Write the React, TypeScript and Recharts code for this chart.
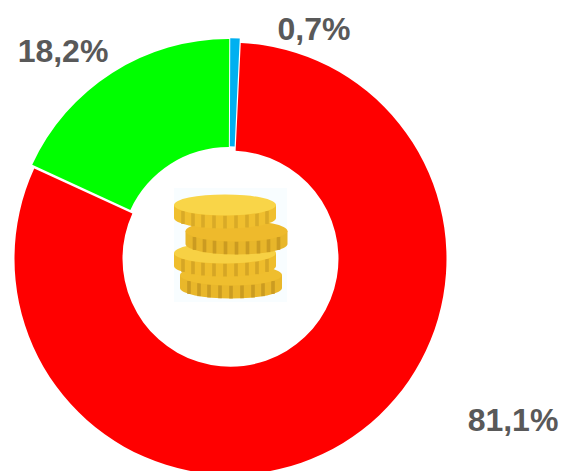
import React from "react";
import { PieChart, Pie, Cell, Sector } from "recharts";

const names = ["Azul", "Rojo", "Verde"];
const values = [0.7, 81.1, 18.2];
const labels = ["0,7%", "81,1%", "18,2%"];
const colors = ["#00b0f0", "#ff0000", "#00ff00"];
const data = names.map((name, i) => ({ name, value: values[i] }));

// label centre offsets relative to pie centre
const labelOffsets = [
  { dx: 84, dy: -226 },
  { dx: 283, dy: 165 },
  { dx: -167, dy: -204 },
];
// each slice is pulled slightly away from the pie centre
const sliceShift = [
  { dx: -0.5, dy: -0.7 },
  { dx: 0.5, dy: 3.7 },
  { dx: -1.5, dy: 0 },
];

const renderLabel = (p: any) => {
  const o = labelOffsets[p.index];
  return (
    <text
      x={p.cx + o.dx}
      y={p.cy + o.dy}
      textAnchor="middle"
      dominantBaseline="central"
      fontFamily="'Liberation Sans', Arial, sans-serif"
      fontWeight="bold"
      fontSize={32}
      fill="#595959"
    >
      {labels[p.index]}
    </text>
  );
};

const renderSlice = (p: any) => {
  const s = sliceShift[p.index];
  return <Sector {...p} cx={p.cx + s.dx} cy={p.cy + s.dy} stroke="none" />;
};

const coinSpecs = [
  { cx: 231, top: 275, top2: "#efbe2e", side: "#e9b72a", stripe: "#c3951f" },
  { cx: 225, top: 253, top2: "#f7d144", side: "#efbd2c", stripe: "#cfa024" },
  { cx: 236.5, top: 231, top2: "#eeba2c", side: "#e8b62a", stripe: "#c3951f" },
  { cx: 225, top: 205, top2: "#f9d548", side: "#f0bf2e", stripe: "#d3a526" },
];
const stripeOffsets = [-42, -32, -22, -11, 0, 11, 22, 32, 42];

const Coins = () => (
  <svg width={562} height={471} style={{ position: "absolute", left: 0, top: 0, pointerEvents: "none" }}>
    <rect x={174} y={188} width={113} height={114} fill="#f8fdff" />
    {coinSpecs.map((c, i) => {
      const rx = 51;
      const ry = 10.5;
      const h = 13;
      const side = `M${c.cx - rx} ${c.top} V${c.top + h} A${rx} ${ry} 0 0 0 ${c.cx + rx} ${c.top + h} V${c.top} Z`;
      return (
        <g key={i}>
          <path d={side} fill={c.side} />
          {stripeOffsets.map((d, j) => {
            const x = c.cx + d;
            const yb = c.top + h + ry * Math.sqrt(1 - (d * d) / (rx * rx));
            const yt = c.top + ry * Math.sqrt(1 - (d * d) / (rx * rx));
            return <rect key={j} x={x - 1.8} y={yt} width={3.6} height={yb - yt} fill={c.stripe} opacity={0.8} />;
          })}
          <ellipse cx={c.cx} cy={c.top} rx={rx} ry={ry} fill={c.top2} />
        </g>
      );
    })}
  </svg>
);

export default function App() {
  return (
    <div style={{ position: "absolute", left: 0, top: 0, width: 562, height: 471, overflow: "hidden", background: "#fff" }}>
      <PieChart width={562} height={471} margin={{ top: 0, right: 0, bottom: 0, left: 0 }}>
        <Pie
          data={data}
          dataKey="value"
          cx={230}
          cy={255}
          innerRadius={108}
          outerRadius={216}
          startAngle={89.8}
          endAngle={-270.2}
          stroke="none"
          shape={renderSlice}
          label={renderLabel}
          labelLine={false}
          isAnimationActive={false}
        >
          {data.map((d, i) => (
            <Cell key={d.name} fill={colors[i]} />
          ))}
        </Pie>
      </PieChart>
      <Coins />
    </div>
  );
}
